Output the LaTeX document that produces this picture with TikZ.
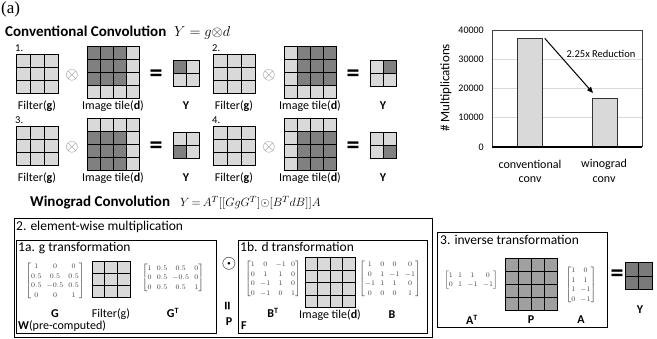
\documentclass[tikz,border=0pt]{standalone}
\usepackage{amsmath}
\usepackage{graphicx}
\usepackage{fontspec}
\setmainfont{Carlito}
\newfontfamily\timesfont{Liberation Serif}
\usetikzlibrary{arrows.meta}
\definecolor{lightcell}{HTML}{D9D9D9}
\definecolor{darkcell}{HTML}{808080}
\definecolor{pcell}{HTML}{A0A0A0}
\definecolor{ycell}{HTML}{7A7A7A}
\definecolor{chartgrid}{HTML}{D9D9D9}
\definecolor{matgray}{HTML}{404040}
\definecolor{opgray}{HTML}{7F7F7F}

\tikzset{
  gridline/.style={line width=1pt, black, line cap=rect},
  lbl/.style={font=\fontsize{12}{13}\selectfont, inner sep=0pt},
  setnum/.style={font=\fontsize{10.5}{11}\selectfont, anchor=base west, inner sep=0pt},
  head/.style={font=\bfseries\fontsize{15}{17}\selectfont, anchor=base west, inner sep=0pt},
  formula/.style={font=\fontsize{14}{16}\selectfont, anchor=base west, inner sep=0pt},
  boxtitle/.style={font=\fontsize{13.5}{15}\selectfont, anchor=base west, inner sep=0pt},
  opnode/.style={inner sep=0pt, text=opgray},
  bigeq/.style={font=\bfseries\fontsize{26}{26}\selectfont, inner sep=0pt},
  matnode/.style={font=\fontsize{7.5}{9.6}\selectfont, text=matgray, inner sep=0pt,
     execute at begin node={\setlength{\arraycolsep}{2.6pt}}},
  framebox/.style={draw=black, line width=1pt, inner sep=0pt, anchor=north west},
  tick/.style={font=\fontsize{10}{11}\selectfont, anchor=east, inner sep=0pt},
  catlbl/.style={font=\fontsize{12}{13}\selectfont, inner sep=0pt},
  bar/.style={draw=black!80, fill=lightcell, line width=0.8pt, anchor=south west, inner sep=0pt, minimum width=25pt}
}

\newcommand{\cellfill}[7]{\fill[#7] (#1,#2) rectangle ++({#3*#5},{#4*#6});}
\newcommand{\gridlines}[6]{%
  \foreach \k in {0,...,#3} {\draw[gridline] ({#1+\k*#5},#2) -- ++(0,{#4*#6});}
  \foreach \k in {0,...,#4} {\draw[gridline] (#1,{#2+\k*#6}) -- ++({#3*#5},0);}
}
\newcommand{\darkblock}[8]{\fill[#8] ({#1+#3*#7},{#2+#4*#7}) rectangle ++({#5*#7},{#6*#7});}

\newcommand{\convset}[7]{%
  \begin{scope}[shift={(#1,#2)}]
    \node[setnum] (num#3) at (15,52) {#3.};
    \cellfill{16}{55}{3}{3}{14}{13}{lightcell}
    \gridlines{16}{55}{3}{3}{14}{13}
    \node[opnode] (op#3) at (72,75) {\scalebox{1.7}{$\otimes$}};
    \cellfill{87}{47}{4}{4}{13}{13}{lightcell}
    \darkblock{87}{47}{#4}{#5}{3}{3}{13}{darkcell}
    \gridlines{87}{47}{4}{4}{13}{13}
    \node[bigeq] (eq#3) at (156,76) {=};
    \cellfill{173}{61}{2}{2}{13}{13}{lightcell}
    \darkblock{173}{61}{#6}{#7}{1}{1}{13}{darkcell}
    \gridlines{173}{61}{2}{2}{13}{13}
    \node[lbl] (fl#3) at (37,106) {Filter(\textbf{g})};
    \node[lbl] (il#3) at (113,106) {Image tile(\textbf{d})};
    \node[lbl] (yl#3) at (186,106) {\textbf{Y}};
  \end{scope}}

\begin{document}
\begin{tikzpicture}[x=1pt,y=-1pt]
\useasboundingbox (0,0) rectangle (657,339);
\fill[white] (0,0) rectangle (657,339);

% headings
\node[font=\timesfont\fontsize{17}{18}\selectfont, anchor=north west, inner sep=0pt] (tag) at (1,2) {(a)};
\node[head] (convhead) at (5,37) {Conventional Convolution};
\node[formula] (convform) at (174,37) {$Y = g{\otimes}d$};

% conventional convolution steps
\convset{0}{0}{1}{0}{0}{0}{0}
\convset{197}{0}{2}{1}{0}{1}{0}
\convset{0}{72}{3}{0}{1}{0}{1}
\convset{197}{72}{4}{1}{1}{1}{1}

% chart
\foreach \yy in {59.25,88.5,117.75} {\draw[chartgrid, line width=0.8pt] (492,\yy) -- (642,\yy);}
\draw[black!75, line width=0.8pt] (492,147) -- (492,30) -- (642,30) -- (642,147);
\node[bar, minimum height=107.8pt] (bar1) at (517,147) {};
\node[bar, minimum height=47.9pt] (bar2) at (592,147) {};
\draw[black, line width=1.2pt] (492,147) -- (642,147);
\node[tick] (t4) at (484,30) {40000};
\node[tick] (t3) at (484,59.25) {30000};
\node[tick] (t2) at (484,88.5) {20000};
\node[tick] (t1) at (484,117.75) {10000};
\node[tick] (t0) at (484,147) {0};
\node[font=\fontsize{13}{14}\selectfont, rotate=90, inner sep=0pt] (ylab) at (446,88) {\# Multiplications};
\node[catlbl] (c1a) at (530,164) {conventional};
\node[catlbl] (c1b) at (530,180) {conv};
\node[catlbl] (c2a) at (604,164) {winograd};
\node[catlbl] (c2b) at (604,180) {conv};
\coordinate (arrend) at (593,93);
\draw[line width=1pt, -{Triangle[length=6pt,width=5pt]}] (bar1.north east) ++(2,0) -- (arrend);
\node[font=\fontsize{10.5}{11}\selectfont, inner sep=0pt] (redlbl) at (601,54) {2.25x Reduction};

% winograd heading
\node[head] (winhead) at (30,207) {Winograd Convolution};
\node[formula, font=\fontsize{12.5}{14}\selectfont] (winform) at (180,207) {$\thickmuskip=3mu Y = A^T[[GgG^T]{\odot}[B^TdB]]A$};

% boxes
\node[framebox, minimum width=418pt, minimum height=119pt] (box2) at (14,218) {};
\node[boxtitle] (box2t) at (16,231) {2. element-wise multiplication};
\node[framebox, minimum width=200pt, minimum height=93pt] (box1a) at (16,240) {};
\node[boxtitle] (box1at) at (18,252) {1a. g transformation};
\node[framebox, minimum width=189pt, minimum height=93pt] (box1b) at (238,240) {};
\node[boxtitle] (box1bt) at (240,252) {1b. d transformation};
\node[framebox, minimum width=170pt, minimum height=95pt] (box3) at (437,232) {};
\node[boxtitle] (box3t) at (440,245) {3. inverse transformation};

% 1a contents
\node[matnode] (Gm) at (55,281) {$\begin{bmatrix}1&0&0\\0.5&0.5&0.5\\0.5&-0.5&0.5\\0&0&1\end{bmatrix}$};
\cellfill{92}{262}{3}{3}{12.7}{12}{lightcell}
\gridlines{92}{262}{3}{3}{12.7}{12}
\node[matnode] (GTm) at (173,278) {$\begin{bmatrix}1&0.5&0.5&0\\0&0.5&-0.5&0\\0&0.5&0.5&1\end{bmatrix}$};
\node[lbl] (Gl) at (55,314) {\textbf{G}};
\node[lbl] (fgl) at (111,314) {Filter(g)};
\node[lbl] (GTl) at (173,313) {\textbf{G\textsuperscript{T}}};
\node[lbl, anchor=west] (Wl) at (18,326) {\textbf{W}(pre-computed)};

% operator between
\node[inner sep=0pt] (odot) at (229,264) {\scalebox{1.9}{$\odot$}};
\node[bigeq, rotate=90, font=\bfseries\fontsize{18}{18}\selectfont] (veq) at (229,306) {=};
\node[lbl] (Pl1) at (229,322) {\textbf{P}};

% 1b contents
\node[matnode] (BTm) at (273,279) {$\begin{bmatrix}1&0&-1&0\\0&1&1&0\\0&-1&1&0\\0&-1&0&1\end{bmatrix}$};
\cellfill{305}{258}{4}{4}{12.5}{12.5}{lightcell}
\gridlines{305}{258}{4}{4}{12.5}{12.5}
\node[matnode] (Bm) at (390,279) {$\begin{bmatrix}1&0&0&0\\0&1&-1&-1\\-1&1&1&0\\0&0&0&1\end{bmatrix}$};
\node[lbl] (BTl) at (273,313) {\textbf{B\textsuperscript{T}}};
\node[lbl] (itl) at (330,315) {Image tile(\textbf{d})};
\node[lbl] (Bl) at (392,315) {\textbf{B}};
\node[lbl, anchor=west] (Fl) at (241,326) {\textbf{F}};

% 3 contents
\node[matnode] (ATm) at (471,280) {$\begin{bmatrix}1&1&1&0\\0&1&-1&-1\end{bmatrix}$};
\cellfill{505}{259}{4}{4}{13}{13}{pcell}
\gridlines{505}{259}{4}{4}{13}{13}
\node[matnode] (Am) at (581,285) {$\begin{bmatrix}1&0\\1&1\\1&-1\\0&-1\end{bmatrix}$};
\node[lbl] (ATl) at (472,320) {\textbf{A\textsuperscript{T}}};
\node[lbl] (Pl2) at (531,320) {\textbf{P}};
\node[lbl] (Al) at (581,320) {\textbf{A}};

% result
\node[bigeq] (eqf) at (617,276) {=};
\cellfill{625}{263}{2}{2}{13.5}{13.5}{ycell}
\gridlines{625}{263}{2}{2}{13.5}{13.5}
\node[lbl] (Yf) at (640,310) {\textbf{Y}};
\end{tikzpicture}
\end{document}
